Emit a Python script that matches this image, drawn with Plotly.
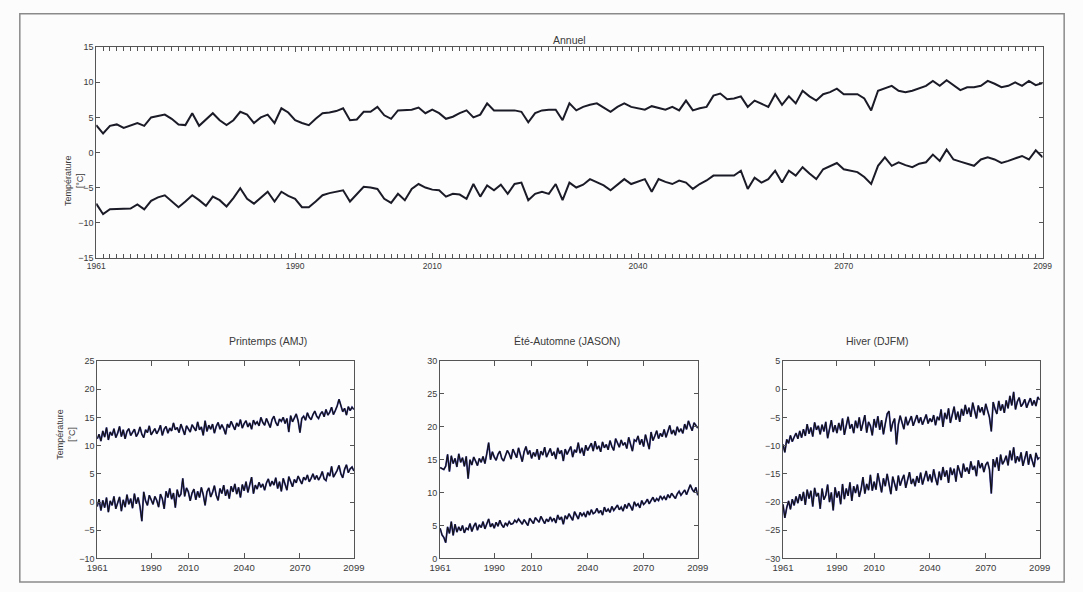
import plotly.graph_objects as go

W, H = 1083, 592

YEARS = list(range(1961, 2100))
TICK_YEARS = [1961, 1990, 2010, 2040, 2070, 2099]
TICK_TEXT = ["1961", "1990", "2010", "2040", "2070", "2099"]

# Annual (top panel)
ANN_HAUT = [3.9, 2.7, 3.8, 4.0, 3.5, 3.8, 4.2, 3.8, 5.0, 5.2,
            5.4, 4.8, 4.0, 3.9, 5.6, 3.8, 4.7, 5.6, 4.6, 3.9,
            4.6, 5.8, 5.4, 4.2, 5.0, 5.4, 4.2, 6.3, 5.7, 4.6,
            4.2, 3.9, 4.8, 5.6, 5.7, 5.9, 6.3, 4.6, 4.7, 5.8,
            5.8, 6.5, 5.3, 4.8, 6.0, 6.1, 6.1, 6.4, 5.6, 6.1,
            5.6, 4.8, 5.1, 5.6, 6.0, 5.0, 5.4, 7.0, 6.0, 6.0,
            6.0, 6.0, 5.8, 4.3, 5.6, 6.0, 6.1, 6.1, 4.6, 7.0,
            6.0, 6.5, 6.8, 7.0, 6.4, 5.8, 6.5, 7.0, 6.5, 6.3,
            6.1, 6.6, 6.3, 6.1, 6.5, 6.0, 7.4, 6.0, 6.3, 6.5,
            8.1, 8.4, 7.6, 7.7, 8.0, 6.5, 7.4, 7.0, 6.5, 8.3,
            6.8, 8.0, 7.0, 8.8, 8.0, 7.4, 8.3, 8.6, 9.1, 8.3,
            8.3, 8.3, 7.7, 6.0, 8.8, 9.1, 9.5, 8.8, 8.6, 8.8,
            9.2, 9.5, 10.2, 9.5, 10.3, 9.6, 8.9, 9.3, 9.3, 9.5,
            10.2, 9.8, 9.3, 9.5, 10.0, 9.5, 10.2, 9.6, 9.9]
ANN_BAS = [-7.3, -8.8, -8.1, -8.1, -8.1, -8.0, -7.4, -8.1, -6.9, -6.4,
           -6.1, -7.0, -7.8, -7.0, -6.1, -6.8, -7.6, -6.3, -6.8, -7.7,
           -6.5, -5.1, -6.6, -7.3, -6.5, -5.6, -7.0, -5.6, -6.2, -6.6,
           -7.8, -7.8, -7.0, -6.1, -5.8, -5.6, -5.4, -7.0, -6.0, -4.9,
           -5.0, -5.2, -6.6, -7.2, -5.9, -6.8, -5.2, -4.5, -5.0, -5.3,
           -5.4, -6.3, -5.9, -6.0, -6.6, -4.5, -6.3, -4.7, -5.4, -4.6,
           -5.9, -4.5, -4.3, -6.8, -5.9, -5.6, -5.9, -4.5, -6.8, -4.3,
           -5.0, -4.6, -3.8, -4.2, -4.7, -5.4, -4.6, -3.8, -4.5, -4.2,
           -3.8, -5.6, -3.8, -4.2, -4.5, -4.0, -4.3, -5.2, -4.5, -4.0,
           -3.3, -3.3, -3.3, -3.3, -2.6, -5.2, -3.6, -4.3, -3.8, -2.6,
           -4.3, -2.6, -3.3, -2.1, -3.0, -3.8, -2.4, -2.0, -1.5, -2.4,
           -2.6, -2.8, -3.5, -4.5, -1.9, -0.7, -1.9, -1.4, -1.8, -2.1,
           -1.6, -1.4, -0.3, -1.2, 0.4, -1.0, -1.3, -1.6, -1.9, -1.0,
           -0.7, -1.0, -1.5, -1.2, -0.8, -0.5, -1.0, 0.3, -0.7]

# Spring (AMJ)
PRI_HAUT = [11.2, 12.0, 10.8, 12.6, 11.5, 13.2, 11.0, 12.4, 11.8, 13.0,
            11.4, 12.2, 13.4, 11.6, 12.8, 11.2, 12.5, 13.0, 11.8, 12.4,
            12.9, 11.6, 12.2, 13.3, 12.0, 11.4, 12.8, 12.3, 13.5, 11.9,
            12.6, 13.0, 12.1, 12.7, 13.6, 11.8, 12.9, 13.4, 12.2, 13.1,
            12.6, 14.0, 12.8, 13.2, 12.3, 13.8, 12.9, 11.9, 13.5, 13.0,
            12.4, 13.7, 13.2, 12.6, 14.2, 12.8, 13.3, 11.8, 14.4, 12.5,
            13.6, 12.9, 13.8, 12.2, 13.4, 14.1, 12.9, 13.7, 13.0, 12.0,
            13.8, 13.2, 14.3, 13.6, 12.8, 14.0, 13.4, 14.6, 13.1, 13.9,
            14.4, 13.3, 14.0, 12.9, 14.5, 13.8, 14.2, 13.5, 15.0, 14.1,
            13.6, 14.8, 14.0, 13.2, 14.6, 15.2, 14.1, 13.5, 14.7, 14.3,
            15.0, 13.9, 14.8, 12.4, 15.3, 14.2, 14.9, 15.6, 14.4, 12.3,
            14.8, 15.2, 14.5, 15.8, 15.0, 14.6, 15.5, 16.1, 15.2, 14.8,
            15.6, 16.0, 15.1, 16.4, 15.4, 15.9, 16.8, 15.5, 16.2, 17.0,
            18.2, 17.1, 16.0, 16.6, 15.4, 16.9, 16.2, 16.8, 16.4]
PRI_BAS = [-0.8, 0.5, -1.5, 0.3, -1.0, 0.8, -1.8, 0.2, -0.6, 1.0,
           -1.2, -0.2, 0.9, -1.6, 0.4, -0.9, 1.3, -0.4, 0.6, -1.1,
           1.5, -0.3, 0.8, -0.8, -3.4, 1.8, 0.2, -0.6, 1.2, 0.4,
           -0.4, 1.0, 0.3, -0.9, 1.4, 0.6, -1.2, 1.9, 0.8, 2.4,
           0.5, 1.6, -1.0, 2.2, 0.9, 1.4, 4.2, 1.0, 2.5, 1.8,
           0.2, 1.6, 2.3, 0.4, 1.9, 0.8, 2.6, 1.3, -0.6, 1.8,
           2.5, 0.9, 1.7, 2.9, 1.2, 0.3, 2.4, 1.5, 3.0, 1.1,
           2.2, 0.6, 2.8, 1.8, 3.2, 1.4, 2.6, 0.8, 3.1, 2.0,
           3.6, 1.7, 2.9, 4.4, 1.5, 3.0, 2.3, 3.5, 2.6, 3.2,
           2.1, 3.4, 4.1, 2.8, 3.7, 3.0, 4.3, 2.4, 3.6, 1.9,
           4.2, 3.3, 2.1, 4.5, 3.6, 2.7, 4.0, 3.4, 4.6, 3.8,
           3.2, 4.4, 3.9, 4.8, 3.6, 4.2, 5.0, 4.0, 4.7, 3.9,
           4.5, 5.4, 4.1, 3.8, 5.2, 4.6, 6.3, 4.4, 5.0, 5.6,
           6.5, 5.0, 4.3, 5.8, 6.6, 5.2, 5.9, 6.2, 5.5]

# Summer-autumn (JASON)
ETE_HAUT = [13.8, 13.6, 13.5, 14.0, 15.8, 13.2, 15.6, 14.4, 15.2, 13.9,
            15.9, 14.6, 15.3, 14.0, 15.5, 12.1, 15.0, 14.2, 15.4, 14.8,
            14.1, 15.2, 14.6, 15.5, 14.4, 15.9, 17.6, 15.0, 16.2, 15.4,
            14.9, 15.8, 16.3, 15.2, 14.8, 15.6, 16.4, 15.9, 15.1, 16.6,
            16.0, 15.3, 16.8, 15.6, 14.7, 16.2, 17.0, 15.8, 16.4, 15.2,
            16.1, 15.5, 16.6, 15.0, 16.3, 15.7, 16.9, 15.4, 16.0, 16.7,
            15.6, 16.2, 15.1, 16.8, 15.9, 16.4, 14.8, 16.6, 15.8, 16.3,
            17.0, 15.4, 16.5, 16.1, 17.6, 16.0, 16.8, 15.6, 17.2, 16.4,
            16.9, 17.5, 16.3, 17.8, 16.6, 17.1, 16.2, 17.7, 16.8, 17.3,
            16.5, 17.9, 17.0, 16.4, 18.2, 17.4, 16.9, 18.0, 17.2, 17.6,
            16.7, 18.4, 17.5, 16.3, 18.0, 17.8, 18.6, 17.3, 18.1, 17.0,
            18.8, 17.6, 16.6, 19.2, 17.9, 18.6, 19.4, 18.2, 19.0, 18.5,
            19.6, 18.4, 19.3, 20.2, 18.9, 19.5, 18.7, 20.0, 19.2, 19.7,
            19.0, 20.4, 19.6, 20.9, 20.1, 19.4, 20.6, 20.2, 19.8]
ETE_BAS = [4.6, 3.6, 3.2, 2.4, 4.8, 3.8, 5.6, 3.5, 5.2, 4.0,
           4.8, 4.2, 5.0, 3.9, 4.6, 4.4, 5.3, 4.1, 4.9, 5.4,
           4.3, 5.1, 4.7, 5.6, 4.5, 5.2, 6.0, 4.8, 5.3, 4.6,
           5.5, 4.9, 5.8, 5.1, 4.7, 5.4, 5.0, 5.6, 5.2, 5.3,
           5.8, 5.5, 6.0, 5.6, 5.2, 5.9, 5.4, 5.0, 6.1, 5.7,
           5.3, 6.2, 5.8, 5.5, 6.4, 5.9, 5.3, 6.0, 5.6, 6.3,
           5.7, 6.1, 5.4, 6.6, 5.9, 6.3, 5.2, 6.5, 6.0, 6.8,
           6.2, 5.8, 7.1, 6.4, 6.0, 7.0, 6.5, 6.9, 6.3, 7.2,
           6.6, 7.4, 6.8, 7.0, 7.6, 6.9, 7.3, 6.6, 7.8, 7.1,
           7.5, 7.0, 7.9, 7.3, 7.7, 8.1, 7.4, 7.8, 7.2, 8.2,
           7.6, 8.4, 7.9, 7.3, 8.6, 8.0, 8.3, 7.7, 8.8, 8.2,
           8.5, 9.0, 8.3, 8.9, 9.3, 8.6, 9.1, 8.8, 9.5, 9.0,
           9.4, 8.9, 9.7, 9.2, 9.9, 9.5, 9.1, 9.8, 10.2, 9.6,
           10.0, 10.4, 9.7, 10.6, 11.2, 10.5, 10.1, 10.8, 9.6]

# Winter (DJFM)
HIV_HAUT = [-9.8, -11.2, -8.9, -9.6, -8.2, -9.3, -8.5, -7.8, -8.8, -7.4,
            -8.6, -7.1, -8.3, -6.2, -7.9, -6.8, -8.4, -5.9, -7.2, -6.5,
            -8.0, -6.3, -7.5, -5.8, -8.7, -6.9, -5.5, -7.6, -6.4, -7.8,
            -6.0, -7.3, -5.2, -8.1, -6.6, -4.9, -7.0, -6.2, -7.8, -5.6,
            -6.9, -5.0, -7.4, -6.1, -4.6, -7.7, -5.8, -6.5, -8.2, -5.3,
            -6.8, -4.8, -7.2, -5.5, -8.0, -6.1, -4.4, -3.9, -7.5, -6.0,
            -5.2, -9.8, -6.3, -4.7, -5.9, -7.1, -4.9, -6.4, -5.6, -4.8,
            -6.5, -5.3, -4.6, -6.0, -5.0, -6.3, -5.4, -4.5, -6.1, -5.2,
            -5.8, -4.6, -6.4, -4.9, -5.5, -3.6, -6.7, -4.2, -5.3, -3.4,
            -6.0, -4.3, -3.1, -5.4, -4.0, -5.8, -3.5, -4.7, -2.8, -4.4,
            -3.3, -4.9, -2.4, -3.8, -5.2, -2.9, -4.1, -3.2, -4.6, -2.6,
            -3.7, -5.0, -7.5, -2.3, -3.5, -4.4, -2.1, -3.8, -2.7, -4.2,
            -2.0, -3.4, -1.2, -2.9, -0.5, -3.6, -2.2, -1.5, -3.1, -2.6,
            -1.8, -3.3, -2.4, -1.6, -2.9, -2.0, -3.0, -1.4, -1.9]
HIV_BAS = [-20.4, -22.8, -21.0, -19.8, -21.3, -19.5, -20.6, -19.0, -20.2, -18.6,
           -19.8, -18.2, -20.5, -17.8, -19.4, -18.0, -20.8, -17.5, -19.0, -18.4,
           -21.2, -17.6, -19.6, -18.8, -16.9, -20.0, -18.3, -21.5, -17.4, -19.2,
           -18.1, -20.4, -16.8, -19.5, -17.6, -18.9, -16.5, -19.8, -17.2, -18.4,
           -16.9, -19.1, -17.7, -15.6, -18.5, -16.8, -17.9, -15.2, -18.0, -16.4,
           -17.8, -14.9, -16.6, -18.3, -15.8, -17.2, -15.0, -16.9, -18.6, -15.5,
           -16.8, -18.0, -15.3, -17.1, -16.0, -15.2, -17.5, -16.3, -14.7, -16.8,
           -15.9, -17.2, -15.4, -16.6, -14.8, -16.9, -15.6, -14.5, -16.3, -15.1,
           -16.5, -14.2, -15.8, -17.0, -14.6, -16.1, -13.8, -15.5, -14.4, -16.6,
           -13.9, -15.2, -14.1, -16.4, -13.5, -14.8, -15.7, -13.2, -14.6, -13.9,
           -15.0, -12.8, -14.3, -13.6, -15.4, -12.6, -14.0, -13.1, -14.7, -13.4,
           -12.9, -14.2, -18.5, -12.4, -13.8, -12.1, -14.5, -11.6, -13.3, -12.7,
           -11.8, -13.5, -10.9, -12.6, -10.3, -13.1, -11.9, -12.8, -11.2, -13.6,
           -12.0, -11.0, -13.4, -11.5, -12.7, -13.8, -11.3, -12.4, -12.1]

for s in [ANN_HAUT, ANN_BAS, PRI_HAUT, PRI_BAS, ETE_HAUT, ETE_BAS, HIV_HAUT, HIV_BAS]:
    assert len(s) == len(YEARS), len(s)

TITLES = ["Annuel", "Printemps (AMJ)", "Été-Automne (JASON)", "Hiver (DJFM)"]
YLABEL = "Température<br>[°C]"

FONT = "Liberation Sans, Arial, sans-serif"
TXT = "#3a3a3a"
AX = "#555555"


def px_x(p):
    return p / W


def px_y(p):
    return 1 - p / H


fig = go.Figure()

# top panel
for s in [ANN_HAUT, ANN_BAS]:
    fig.add_trace(go.Scatter(x=YEARS, y=s, mode="lines", xaxis="x", yaxis="y",
                             line=dict(color="#1b1b28", width=2), showlegend=False,
                             hoverinfo="skip"))

panels = [("x2", "y2", PRI_HAUT, PRI_BAS), ("x3", "y3", ETE_HAUT, ETE_BAS),
          ("x4", "y4", HIV_HAUT, HIV_BAS)]
for xa, ya, hi, lo in panels:
    for s in [hi, lo]:
        fig.add_trace(go.Scatter(x=YEARS, y=s, mode="lines", xaxis=xa, yaxis=ya,
                                 line=dict(color="#4444a8", width=1.8), showlegend=False,
                                 hoverinfo="skip"))
        fig.add_trace(go.Scatter(x=YEARS, y=s, mode="lines", xaxis=xa, yaxis=ya,
                                 line=dict(color="#111111", width=1.1), showlegend=False,
                                 hoverinfo="skip"))


def xax(domain, anchor, minor=False, size=9):
    d = dict(domain=domain, anchor=anchor, range=[1961, 2099],
             tickmode="array", tickvals=TICK_YEARS, ticktext=TICK_TEXT,
             ticks="inside", ticklen=5, tickcolor=AX, showline=True, linecolor=AX,
             linewidth=1, mirror="ticks", showgrid=False, zeroline=False,
             tickfont=dict(size=size, color=TXT, family=FONT))
    if minor:
        d["minor"] = dict(tick0=1961, dtick=1, ticks="inside", ticklen=4,
                          tickcolor=AX, showgrid=False)
    return d


def yax(domain, anchor, rng, dtick):
    return dict(domain=domain, anchor=anchor, range=rng, tickmode="linear",
                tick0=rng[0], dtick=dtick, ticks="inside", ticklen=4, tickcolor=AX,
                showline=True, linecolor=AX, linewidth=1, mirror="ticks",
                showgrid=False, zeroline=False,
                tickfont=dict(size=9, color=TXT, family=FONT))


BOT_Y = [px_y(563), px_y(362)]
fig.update_layout(
    width=W, height=H,
    margin=dict(l=0, r=0, t=0, b=0),
    paper_bgcolor="#fcfcfc", plot_bgcolor="#fdfdfd",
    font=dict(family=FONT, color=TXT),
    xaxis=xax([px_x(87), px_x(1053)], "y", minor=True, size=8.5),
    yaxis=yax([px_y(257), px_y(43)], "x", [-15, 15], 5),
    xaxis2=xax([px_x(88), px_x(350)], "y2", size=9.5),
    yaxis2=yax(BOT_Y, "x2", [-10, 25], 5),
    xaxis3=xax([px_x(438), px_x(701)], "y3", size=9.5),
    yaxis3=yax(BOT_Y, "x3", [0, 30], 5),
    xaxis4=xax([px_x(788), px_x(1050)], "y4", size=9.5),
    yaxis4=yax(BOT_Y, "x4", [-30, 5], 5),
)

title_pos = [(570, 27), (220, 342), (568, 342), (918, 342)]
for t, (x, y) in zip(TITLES, title_pos):
    fig.add_annotation(text=t, x=px_x(x), y=px_y(y), xref="paper", yref="paper",
                       showarrow=False, font=dict(size=10.5, color=TXT, family=FONT))

for (x, y) in [(51, 150), (43, 465)]:
    fig.add_annotation(text=YLABEL, x=px_x(x), y=px_y(y), xref="paper", yref="paper",
                       showarrow=False, textangle=-90,
                       font=dict(size=9, color=TXT, family=FONT))

fig.add_shape(type="rect", xref="paper", yref="paper",
              x0=px_x(9), x1=px_x(1075), y0=px_y(587), y1=px_y(9),
              line=dict(color="#8a8a8a", width=1.5), fillcolor="rgba(0,0,0,0)",
              layer="below")

fig.write_html("out.html")
